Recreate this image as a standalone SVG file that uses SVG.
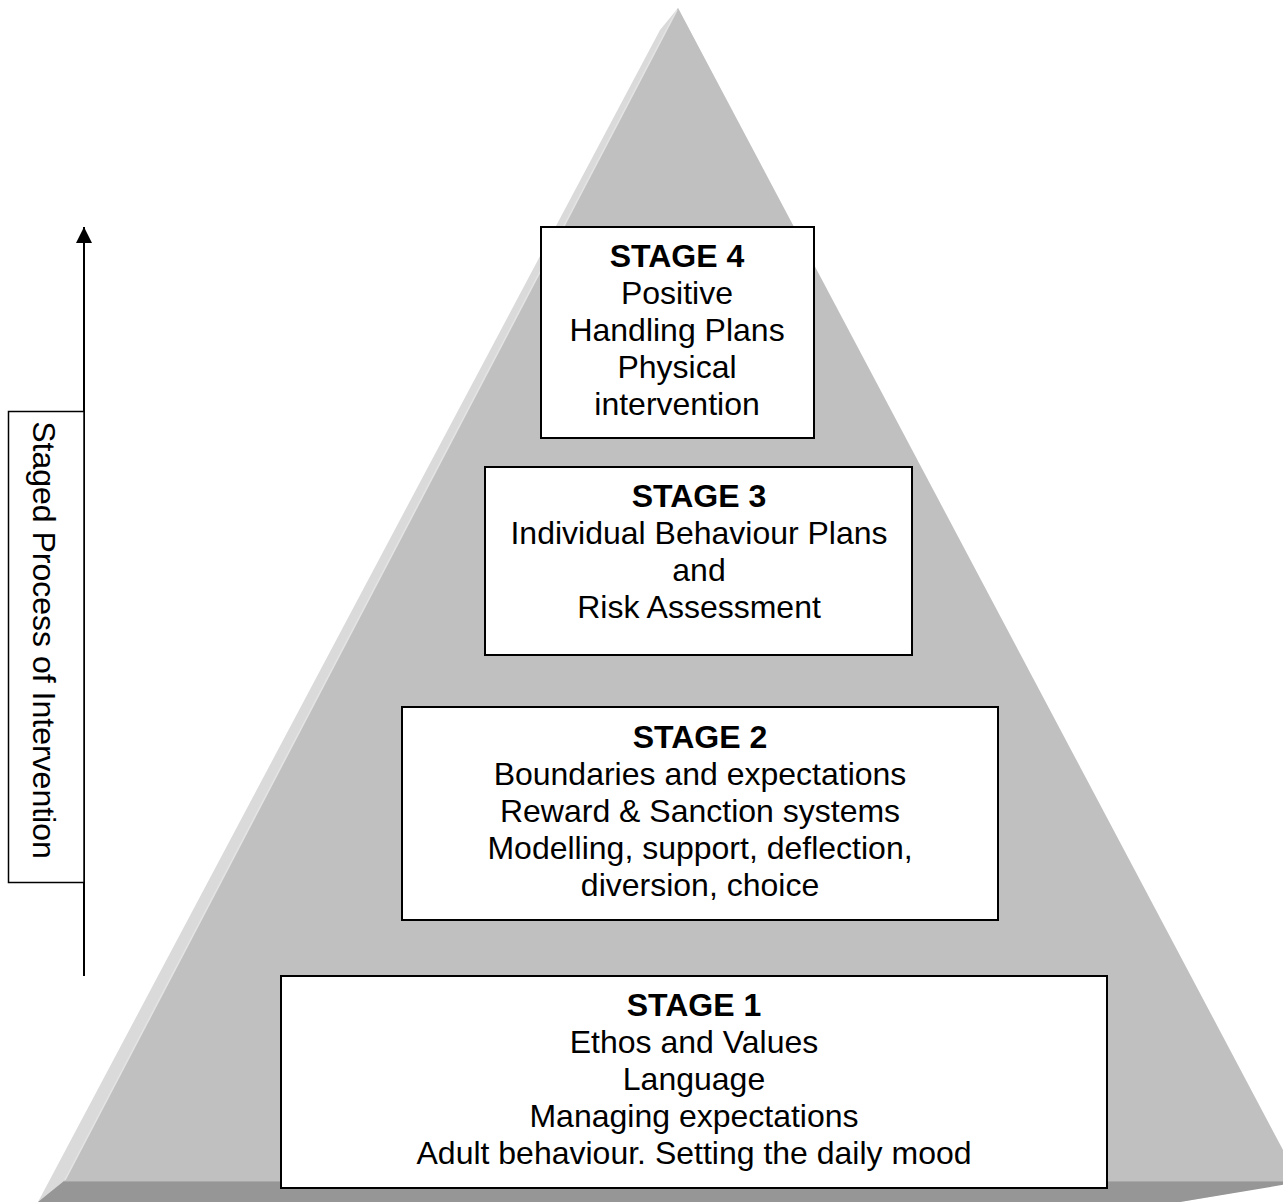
<svg xmlns="http://www.w3.org/2000/svg" width="1283" height="1202" viewBox="0 0 1283 1202">
<style>
.box{fill:#ffffff;stroke:#000000;stroke-width:2}
.t{font-family:"Liberation Sans",Arial,sans-serif;font-size:32px;fill:#000000;text-anchor:middle}
.b{font-weight:bold}
</style>
<defs>
<marker id="ah" viewBox="0 0 16 16" refX="16" refY="8" markerWidth="16" markerHeight="16" markerUnits="userSpaceOnUse" orient="auto">
<path d="M0,0 L16,8 L0,16 Z" fill="#000"/>
</marker>
</defs>
<rect width="1283" height="1202" fill="#ffffff"/>
<g id="pyramid">
<polygon points="678,8 660,30 38,1202 1180,1202 1300,1181 1293,1182" fill="#dadada"/>
<polygon points="678,8 64,1182 1300,1182" fill="#c0c0c0"/>
<line x1="677" y1="10" x2="65" y2="1180" stroke="#e4e4e4" stroke-width="1.5"/>
<polygon points="64,1181 1300,1181 1300,1182 1180,1202 38,1202" fill="#969696"/>
<line x1="64" y1="1181.5" x2="1283" y2="1181.5" stroke="#a8a8a8" stroke-width="1"/>
</g>
<g id="connectors">
<line x1="84" y1="976" x2="84" y2="227" stroke="#000" stroke-width="2" marker-end="url(#ah)"/>
</g>
<g id="axis-label">
<rect x="8.5" y="411.5" width="75.5" height="471" fill="#ffffff" stroke="#000" stroke-width="1.5"/>
<text class="t" transform="translate(33,640) rotate(90)">Staged Process of Intervention</text>
</g>
<g id="stage4">
<rect class="box" x="541" y="227" width="273" height="211"/>
<text class="t b" x="677" y="267">STAGE 4</text>
<text class="t" x="677" y="304">Positive</text>
<text class="t" x="677" y="341">Handling Plans</text>
<text class="t" x="677" y="378">Physical</text>
<text class="t" x="677" y="415">intervention</text>
</g>
<g id="stage3">
<rect class="box" x="485" y="467" width="427" height="188"/>
<text class="t b" x="699" y="507">STAGE 3</text>
<text class="t" x="699" y="544">Individual Behaviour Plans</text>
<text class="t" x="699" y="581">and</text>
<text class="t" x="699" y="618">Risk Assessment</text>
</g>
<g id="stage2">
<rect class="box" x="402" y="707" width="596" height="213"/>
<text class="t b" x="700" y="748">STAGE 2</text>
<text class="t" x="700" y="785">Boundaries and expectations</text>
<text class="t" x="700" y="822">Reward &amp; Sanction systems</text>
<text class="t" x="700" y="859">Modelling, support, deflection,</text>
<text class="t" x="700" y="896">diversion, choice</text>
</g>
<g id="stage1">
<rect class="box" x="281" y="976" width="826" height="212"/>
<text class="t b" x="694" y="1016">STAGE 1</text>
<text class="t" x="694" y="1053">Ethos and Values</text>
<text class="t" x="694" y="1090">Language</text>
<text class="t" x="694" y="1127">Managing expectations</text>
<text class="t" x="694" y="1164">Adult behaviour. Setting the daily mood</text>
</g>
</svg>
